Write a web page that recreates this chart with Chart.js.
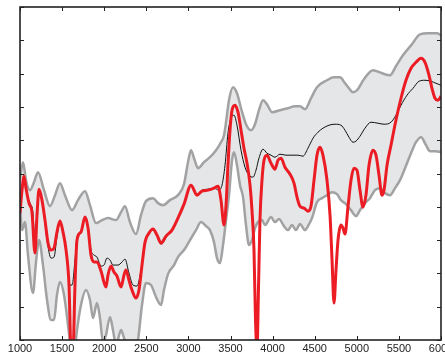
<!DOCTYPE html>
<html>
<head>
<meta charset="utf-8">
<script src="https://cdn.jsdelivr.net/npm/chart.js@4"></script>
<style>
  html, body { margin: 0; padding: 0; background: #fff; }
</style>
</head>
<body>
<canvas id="chart" width="445" height="354"></canvas>
<script>
// Envelope (upper / lower gray), ensemble mean (black) and single spectrum (red).
const upperX = [1000, 1036, 1071, 1119, 1166, 1214, 1285, 1356, 1416, 1475, 1534, 1618, 1689, 1772, 1831, 1903, 1974, 2045, 2140, 2200, 2247, 2306, 2378, 2437, 2496, 2580, 2639, 2698, 2781, 2876, 2948, 2995, 3031, 3067, 3114, 3185, 3256, 3328, 3387, 3423, 3447, 3482, 3530, 3577, 3625, 3684, 3743, 3791, 3838, 3886, 3933, 3993, 4088, 4183, 4266, 4325, 4385, 4456, 4527, 4646, 4729, 4800, 4860, 4907, 4954, 5002, 5085, 5192, 5299, 5394, 5465, 5548, 5655, 5750, 5845, 5952, 6000];
const upperY = [4.86, 5.34, 4.80, 4.50, 4.74, 5.04, 4.50, 4.02, 4.35, 4.71, 4.35, 3.90, 4.20, 4.47, 4.05, 3.51, 3.60, 3.66, 3.60, 3.84, 4.02, 3.54, 3.18, 3.75, 4.17, 4.26, 4.11, 4.05, 4.20, 4.35, 4.68, 5.34, 5.70, 5.46, 5.16, 5.34, 5.49, 5.70, 5.94, 6.15, 6.54, 7.20, 7.59, 7.41, 6.96, 6.48, 6.30, 6.48, 6.90, 7.20, 7.08, 6.84, 6.90, 6.96, 7.02, 7.02, 6.93, 7.26, 7.59, 7.80, 7.89, 7.89, 7.71, 7.56, 7.44, 7.50, 7.83, 8.10, 8.01, 7.95, 8.22, 8.55, 8.88, 9.18, 9.21, 9.21, 9.15];

const lowerX = [1000, 1024, 1059, 1095, 1154, 1190, 1226, 1273, 1321, 1368, 1404, 1439, 1475, 1523, 1570, 1606, 1641, 1677, 1724, 1784, 1831, 1867, 1914, 1950, 1986, 2021, 2069, 2104, 2140, 2200, 2235, 2283, 2354, 2401, 2449, 2496, 2556, 2615, 2675, 2710, 2758, 2829, 2876, 2948, 3019, 3090, 3150, 3209, 3256, 3304, 3340, 3375, 3411, 3447, 3482, 3518, 3542, 3577, 3613, 3649, 3684, 3720, 3755, 3791, 3826, 3874, 3910, 3981, 4028, 4076, 4135, 4183, 4230, 4278, 4325, 4385, 4420, 4468, 4527, 4587, 4646, 4705, 4765, 4812, 4872, 4931, 4990, 5038, 5097, 5157, 5216, 5276, 5335, 5394, 5454, 5513, 5573, 5644, 5703, 5763, 5822, 5869, 5940, 6000];
const lowerY = [4.05, 3.30, 3.54, 2.55, 1.41, 2.34, 3.00, 2.25, 1.20, 0.60, 0.60, 1.35, 1.74, 1.35, 0.45, -0.30, -0.45, 0.30, 1.05, 1.50, 1.20, 0.66, 1.11, 0.66, -0.06, 0.15, 0.69, 0.30, -0.15, 0.30, 0.06, -0.30, -0.36, 0.00, 1.05, 1.71, 1.65, 1.29, 1.05, 1.50, 1.98, 2.25, 2.49, 2.70, 3.00, 3.30, 3.54, 3.42, 3.30, 2.94, 2.46, 2.31, 2.85, 3.60, 4.35, 5.40, 5.64, 5.25, 4.65, 4.29, 3.45, 2.85, 3.00, 3.36, 3.54, 3.60, 3.45, 3.69, 3.54, 3.63, 3.42, 3.30, 3.45, 3.30, 3.48, 3.30, 3.42, 3.66, 4.14, 4.26, 4.35, 4.44, 4.38, 4.20, 4.08, 3.90, 3.72, 3.90, 4.11, 4.26, 4.50, 4.56, 4.41, 4.35, 4.56, 4.80, 5.16, 5.61, 5.94, 6.09, 5.85, 5.67, 5.67, 5.64];

const meanX = [1000, 1024, 1048, 1083, 1119, 1154, 1178, 1202, 1226, 1273, 1321, 1368, 1404, 1439, 1475, 1523, 1558, 1594, 1618, 1653, 1677, 1724, 1772, 1808, 1843, 1879, 1914, 1962, 1998, 2033, 2069, 2104, 2164, 2211, 2247, 2294, 2342, 2389, 2437, 2473, 2508, 2568, 2615, 2675, 2746, 2817, 2876, 2948, 3031, 3102, 3161, 3233, 3304, 3363, 3399, 3435, 3470, 3506, 3542, 3577, 3625, 3672, 3720, 3767, 3803, 3838, 3886, 3933, 3981, 4028, 4088, 4159, 4230, 4301, 4361, 4420, 4480, 4539, 4598, 4670, 4741, 4812, 4860, 4907, 4954, 4990, 5038, 5097, 5168, 5252, 5323, 5406, 5465, 5525, 5596, 5668, 5739, 5810, 5881, 5940, 6000];
const meanY = [4.05, 4.50, 4.86, 4.35, 4.11, 3.81, 2.85, 3.90, 4.50, 3.99, 3.00, 2.46, 2.49, 3.09, 3.54, 3.12, 2.40, 1.65, 1.65, 2.40, 3.09, 3.27, 3.66, 3.42, 2.70, 2.55, 2.49, 2.22, 2.25, 2.46, 2.40, 2.25, 2.25, 2.34, 2.43, 2.01, 1.65, 1.62, 2.10, 2.76, 3.09, 3.30, 3.21, 2.88, 3.12, 3.36, 3.66, 4.05, 4.65, 4.38, 4.50, 4.53, 4.56, 4.50, 4.65, 5.25, 6.21, 6.66, 6.75, 6.45, 5.70, 5.19, 4.95, 4.89, 5.10, 5.46, 5.73, 5.61, 5.55, 5.49, 5.58, 5.55, 5.55, 5.55, 5.52, 5.76, 6.06, 6.24, 6.36, 6.45, 6.48, 6.45, 6.30, 6.09, 5.94, 5.97, 6.12, 6.36, 6.54, 6.51, 6.48, 6.54, 6.75, 7.05, 7.35, 7.56, 7.77, 7.80, 7.77, 7.71, 7.65];

const redX = [1000, 1024, 1048, 1071, 1107, 1142, 1178, 1202, 1226, 1261, 1297, 1333, 1368, 1404, 1439, 1475, 1511, 1547, 1582, 1606, 1630, 1653, 1677, 1724, 1772, 1808, 1843, 1879, 1914, 1962, 2021, 2045, 2081, 2116, 2152, 2200, 2235, 2259, 2294, 2330, 2378, 2413, 2449, 2485, 2532, 2580, 2627, 2675, 2734, 2805, 2876, 2948, 3031, 3102, 3161, 3233, 3304, 3352, 3387, 3423, 3447, 3470, 3494, 3518, 3553, 3589, 3625, 3660, 3696, 3732, 3755, 3779, 3797, 3815, 3832, 3850, 3874, 3898, 3933, 3981, 4028, 4064, 4100, 4147, 4207, 4254, 4290, 4325, 4373, 4420, 4456, 4492, 4527, 4563, 4598, 4646, 4682, 4706, 4729, 4753, 4777, 4812, 4836, 4860, 4895, 4931, 4966, 5002, 5038, 5073, 5109, 5145, 5192, 5228, 5264, 5299, 5323, 5359, 5406, 5465, 5525, 5584, 5644, 5703, 5763, 5810, 5858, 5893, 5929, 5964, 6000];
const redY = [3.81, 4.50, 4.92, 4.56, 4.11, 3.84, 2.61, 3.75, 4.53, 4.20, 3.60, 2.91, 2.70, 2.76, 3.24, 3.57, 3.24, 2.70, 1.65, -0.30, -0.30, 1.65, 3.00, 3.24, 3.69, 3.36, 2.55, 2.34, 2.34, 2.07, 1.59, 1.95, 2.22, 2.04, 1.92, 1.59, 1.95, 2.10, 1.80, 1.50, 1.26, 1.50, 2.25, 2.94, 3.21, 3.33, 3.15, 2.91, 3.12, 3.30, 3.66, 4.08, 4.65, 4.35, 4.47, 4.50, 4.56, 4.62, 4.20, 3.45, 4.05, 5.25, 6.30, 6.90, 7.05, 6.84, 6.30, 5.76, 5.31, 4.65, 3.90, 2.70, 0.60, -0.30, 1.50, 3.60, 4.80, 5.40, 5.55, 5.31, 5.13, 5.40, 5.46, 5.19, 4.98, 4.71, 4.29, 4.02, 3.96, 3.87, 4.02, 4.80, 5.55, 5.79, 5.55, 4.80, 3.75, 2.40, 1.11, 2.10, 3.00, 3.45, 3.36, 3.18, 3.99, 4.80, 5.16, 5.10, 4.50, 3.99, 4.35, 5.25, 5.70, 5.55, 4.95, 4.35, 4.50, 5.25, 5.85, 6.60, 7.26, 7.80, 8.16, 8.34, 8.46, 8.34, 7.95, 7.56, 7.26, 7.20, 7.32];

const xMin = 1000, xMax = 6000, xStep = 500;
const yMin = 0, yMax = 10, yStep = 1;

const pts = (xs, ys) => xs.map((x, i) => ({ x: x, y: ys[i] }));

// box frame with short inward ticks on all four sides
const frame = {
    id: "frame",
    afterDatasetsDraw(chart) {
        const { ctx, chartArea: a, scales } = chart;
        const len = 4;
        ctx.save();
        ctx.strokeStyle = "#222";
        ctx.lineWidth = 1;
        ctx.beginPath();
        for (const t of scales.x.ticks) {
            const px = Math.round(scales.x.getPixelForValue(t.value)) + 0.5;
            ctx.moveTo(px, a.bottom); ctx.lineTo(px, a.bottom - len);
            ctx.moveTo(px, a.top); ctx.lineTo(px, a.top + len);
        }
        for (const t of scales.y.ticks) {
            const py = Math.round(scales.y.getPixelForValue(t.value)) + 0.5;
            ctx.moveTo(a.left, py); ctx.lineTo(a.left + len, py);
            ctx.moveTo(a.right, py); ctx.lineTo(a.right - len, py);
        }
        ctx.stroke();
        ctx.lineWidth = 1.6;
        ctx.strokeRect(a.left, a.top, a.right - a.left, a.bottom - a.top);
        ctx.restore();
    },
};

const grayLine = "#a2a2a2";

new Chart(document.getElementById("chart"), {
    type: "line",
    data: {
        datasets: [
            {
                label: "spectrum",
                data: pts(redX, redY),
                borderColor: "#ec1c24",
                borderWidth: 3,
            },
            {
                label: "mean",
                data: pts(meanX, meanY),
                borderColor: "#111",
                borderWidth: 1,
            },
            {
                label: "upper",
                data: pts(upperX, upperY),
                borderColor: grayLine,
                borderWidth: 2.5,
                fill: "+1",
                backgroundColor: "#e5e6e8",
            },
            {
                label: "lower",
                data: pts(lowerX, lowerY),
                borderColor: grayLine,
                borderWidth: 2.5,
            },
        ],
    },
    options: {
        responsive: false,
        animation: false,
        devicePixelRatio: 1,
        layout: { padding: { left: 20, right: 4, top: 7, bottom: 0 } },
        elements: {
            point: { radius: 0 },
            line: { cubicInterpolationMode: "monotone" },
        },
        plugins: {
            legend: { display: false },
            tooltip: { enabled: false },
            filler: { drawTime: "beforeDatasetsDraw" },
        },
        scales: {
            x: {
                type: "linear",
                min: xMin,
                max: xMax,
                grid: { display: false, drawTicks: false },
                border: { display: false },
                ticks: {
                    stepSize: xStep,
                    maxRotation: 0,
                    autoSkip: false,
                    padding: 2,
                    color: "#222",
                    font: { family: "Liberation Sans", size: 11 },
                    callback: v => String(v),
                },
                afterFit(s) { s.height = 14; s.paddingLeft = 0; s.paddingRight = 0; },
            },
            y: {
                min: yMin,
                max: yMax,
                grid: { display: false, drawTicks: false },
                border: { display: false },
                ticks: { stepSize: yStep, display: false },
                afterFit(s) { s.width = 0; s.paddingTop = 0; s.paddingBottom = 0; },
            },
        },
    },
    plugins: [frame],
});
</script>
</body>
</html>
